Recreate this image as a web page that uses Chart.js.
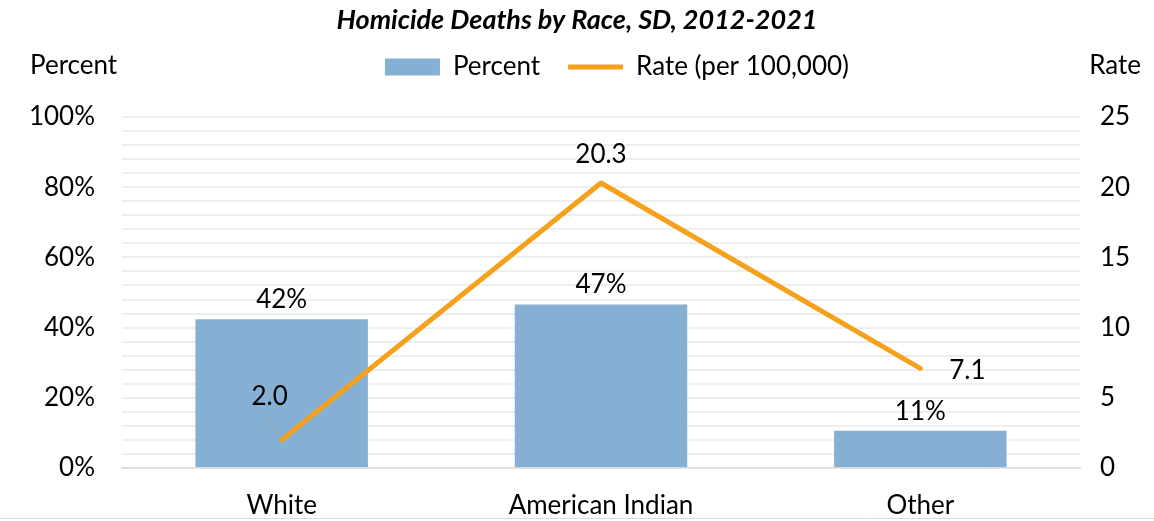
<!DOCTYPE html>
<html>
<head>
<meta charset="utf-8">
<title>Homicide Deaths by Race, SD, 2012-2021</title>
<script src="https://cdn.jsdelivr.net/npm/chart.js@4/dist/chart.umd.min.js"></script>
<style>
  html, body { margin: 0; padding: 0; background: #ffffff; }
  #wrap { position: relative; width: 1154px; height: 521px; }
</style>
</head>
<body>
<div id="wrap"><canvas id="chart"></canvas></div>
<script>
// Homicide deaths by race, South Dakota, 2012-2021
const categories = ['White', 'American Indian', 'Other'];
const percentValues = [42.4, 46.6, 10.6];      // share of homicide deaths (%)
const rateValues = [2.0, 20.3, 7.1];           // deaths per 100,000
const percentTickLabels = [0, 20, 40, 60, 80, 100];
const rateTickLabels = [0, 5, 10, 15, 20, 25];
const chartTitle = 'Homicide Deaths by Race, SD, 2012-2021';

const FONT = 'Lato, "Open Sans", sans-serif';
const TEXT = '#000000';
const BAR_COLOR = '#85afd3';
const LINE_COLOR = '#f5a11c';
const FS = 26;

// Value labels; rate label offsets are relative to each point
const rateLabelOffsets = [
  { dx: -12, dy: -43, leader: true },
  { dx: 0, dy: -28, leader: false },
  { dx: 47, dy: 2, leader: false }
];

const valueLabels = {
  id: 'valueLabels',
  afterDatasetsDraw(chart) {
    const ctx = chart.ctx;
    ctx.save();
    ctx.font = FS + 'px ' + FONT;
    ctx.fillStyle = TEXT;
    ctx.textAlign = 'center';

    const barMeta = chart.getDatasetMeta(0);
    barMeta.data.forEach((bar, i) => {
      ctx.textBaseline = 'alphabetic';
      ctx.fillText(percentValues[i].toFixed(0) + '%', bar.x, bar.y - 11);
    });

    const lineMeta = chart.getDatasetMeta(1);
    lineMeta.data.forEach((pt, i) => {
      const o = rateLabelOffsets[i];
      const lx = pt.x + o.dx, ly = pt.y + o.dy;
      if (o.leader) {
        ctx.strokeStyle = '#a6a6a6';
        ctx.lineWidth = 1;
        ctx.beginPath();
        ctx.moveTo(lx - 2, ly + 21);
        ctx.lineTo(pt.x - 1, pt.y - 1);
        ctx.stroke();
      }
      ctx.textBaseline = 'middle';
      ctx.fillText(rateValues[i].toFixed(1), lx, ly);
    });
    ctx.restore();
  }
};

// Legend sits a little right of centre, over the plot
const legendShift = {
  id: 'legendShift',
  afterLayout(chart) {
    chart.legend.left += 40;
    chart.legend.right += 40;
  }
};

// Title, horizontal axis titles and the frame's bottom edge
const frameText = {
  id: 'frameText',
  afterDraw(chart) {
    const ctx = chart.ctx;
    const w = chart.width;
    ctx.save();
    ctx.fillStyle = TEXT;
    ctx.textBaseline = 'middle';
    ctx.textAlign = 'center';
    ctx.font = 'italic bold 27px ' + FONT;
    ctx.fillText(chartTitle, (chart.scales.y.left + chart.scales.y1.right) / 2, 20);

    const y = chart.legend.top + chart.options.plugins.legend.labels.padding + FS / 2;
    ctx.font = FS + 'px ' + FONT;
    ctx.textAlign = 'left';
    ctx.fillText('Percent', chart.scales.y.left + 30, y - 1);
    ctx.textAlign = 'right';
    ctx.fillText('Rate', chart.scales.y1.right - 13, y - 1);

    ctx.strokeStyle = '#d9d9d9';
    ctx.lineWidth = 1;
    ctx.beginPath();
    ctx.moveTo(0, 518.5);
    ctx.lineTo(w, 518.5);
    ctx.stroke();
    ctx.restore();
  }
};

new Chart(document.getElementById('chart'), {
  data: {
    labels: categories,
    datasets: [
      {
        type: 'bar',
        label: 'Percent',
        data: percentValues,
        backgroundColor: BAR_COLOR,
        borderWidth: 0,
        yAxisID: 'y',
        order: 2,
        pointStyle: 'rect',
        barPercentage: 1,
        categoryPercentage: 0.54
      },
      {
        type: 'line',
        label: 'Rate (per 100,000)',
        data: rateValues,
        borderColor: LINE_COLOR,
        backgroundColor: LINE_COLOR,
        borderWidth: 5,
        borderCapStyle: 'round',
        borderJoinStyle: 'round',
        pointRadius: 0,
        pointHoverRadius: 0,
        pointStyle: 'line',
        tension: 0,
        yAxisID: 'y1',
        order: 1
      }
    ]
  },
  options: {
    responsive: true,
    maintainAspectRatio: false,
    animation: false,
    layout: { padding: { left: 0, right: 0, top: 26, bottom: 2 } },
    plugins: {
      tooltip: { enabled: false },
      title: { display: false },
      // empty spacer between the legend and the plot area
      subtitle: {
        display: true,
        text: '',
        position: 'top',
        weight: 500,
        font: { size: 1, lineHeight: 1 },
        padding: { top: 0, bottom: 26 }
      },
      legend: {
        position: 'top',
        align: 'center',
        labels: {
          usePointStyle: true,
          pointStyleWidth: 55,
          boxHeight: 17,
          padding: 28,
          color: TEXT,
          font: { family: FONT, size: FS },
          sort: (a, b) => a.datasetIndex - b.datasetIndex
        }
      }
    },
    scales: {
      x: {
        afterFit(scale) { scale.height = 51; },
        grid: { display: false, drawTicks: false },
        border: { display: true, color: '#d9d9d9', width: 1.5 },
        ticks: { color: TEXT, font: { family: FONT, size: FS, lineHeight: 1 }, padding: 25 }
      },
      y: {
        position: 'left',
        min: 0,
        max: 100,
        afterFit(scale) { scale.width = 122; },
        grid: { color: '#eeeeee', lineWidth: 2, drawTicks: false },
        border: { display: false },
        ticks: {
          stepSize: 4,
          autoSkip: false,
          padding: 27,
          color: TEXT,
          font: { family: FONT, size: FS },
          callback: (v) => percentTickLabels.includes(v) ? v + '%' : ''
        }
      },
      y1: {
        position: 'right',
        min: 0,
        max: 25,
        afterFit(scale) { scale.width = 74; },
        grid: { display: false, drawTicks: false },
        border: { display: false },
        ticks: {
          stepSize: 5,
          autoSkip: false,
          padding: 20,
          color: TEXT,
          font: { family: FONT, size: FS },
          callback: (v) => rateTickLabels.includes(v) ? String(v) : ''
        }
      }
    }
  },
  plugins: [legendShift, valueLabels, frameText]
});
</script>
</body>
</html>
